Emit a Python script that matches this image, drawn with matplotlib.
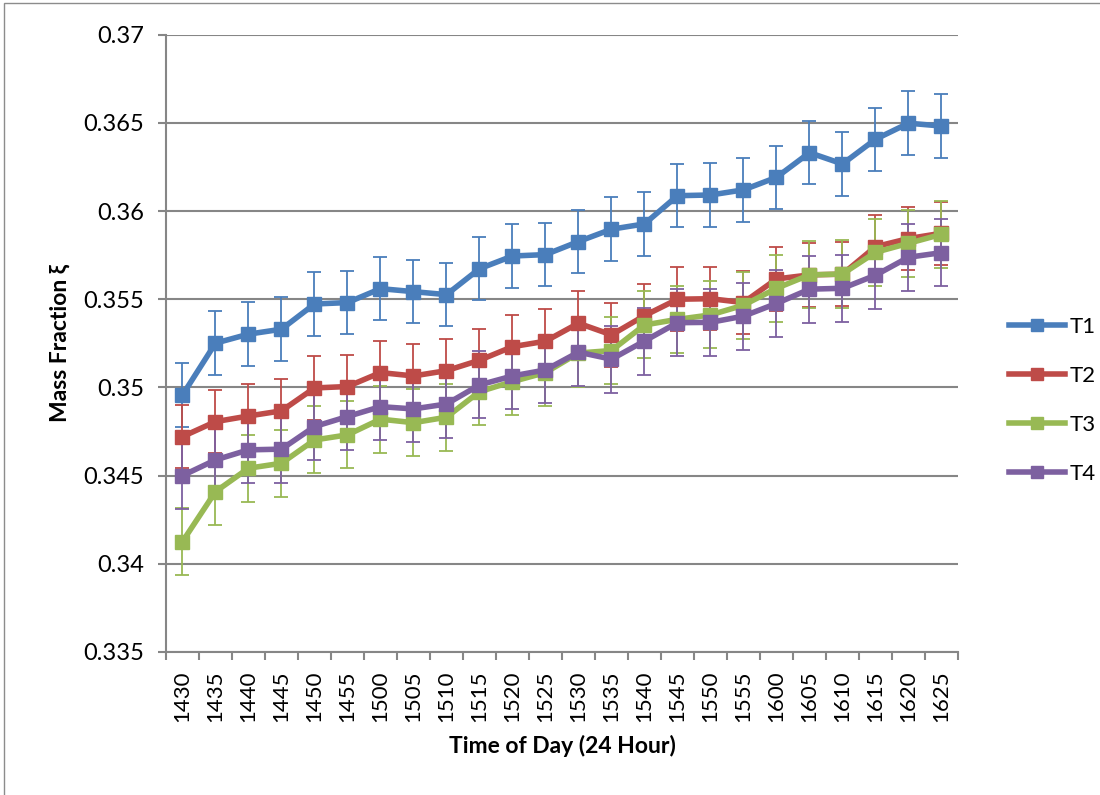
import matplotlib
matplotlib.use("Agg")
import matplotlib.pyplot as plt
from matplotlib.lines import Line2D
from matplotlib.patches import Rectangle
import numpy as np

plt.rcParams['font.family'] = ['Lato', 'DejaVu Sans']

times = ["1430", "1435", "1440", "1445", "1450", "1455", "1500", "1505",
         "1510", "1515", "1520", "1525", "1530", "1535", "1540", "1545",
         "1550", "1555", "1600", "1605", "1610", "1615", "1620", "1625"]

t1 = [0.34957, 0.35251, 0.35302, 0.35330, 0.35473, 0.35481, 0.35560, 0.35543,
      0.35526, 0.35673, 0.35745, 0.35753, 0.35827, 0.35897, 0.35927, 0.36087,
      0.36091, 0.36120, 0.36191, 0.36331, 0.36267, 0.36407, 0.36498, 0.36482]
t2 = [0.34721, 0.34806, 0.34838, 0.34867, 0.34997, 0.35005, 0.35084, 0.35065,
      0.35095, 0.35154, 0.35231, 0.35262, 0.35364, 0.35298, 0.35407, 0.35500,
      0.35503, 0.35481, 0.35615, 0.35638, 0.35642, 0.35798, 0.35844, 0.35874]
t3 = [0.34126, 0.34409, 0.34542, 0.34570, 0.34702, 0.34731, 0.34820, 0.34800,
      0.34831, 0.34976, 0.35033, 0.35084, 0.35195, 0.35209, 0.35354, 0.35386,
      0.35411, 0.35466, 0.35562, 0.35638, 0.35643, 0.35766, 0.35817, 0.35868]
t4 = [0.34500, 0.34589, 0.34646, 0.34650, 0.34778, 0.34835, 0.34891, 0.34878,
      0.34906, 0.35014, 0.35065, 0.35099, 0.35200, 0.35160, 0.35263, 0.35367,
      0.35369, 0.35404, 0.35476, 0.35557, 0.35562, 0.35636, 0.35738, 0.35764]

err = {"T1": 0.0018, "T2": 0.0018, "T3": 0.0019, "T4": 0.0019}

series = [("T1", t1, "#4A7EBB"), ("T2", t2, "#BE4B48"),
          ("T3", t3, "#98B954"), ("T4", t4, "#7D60A0")]

fig = plt.figure(figsize=(11, 7.95), dpi=100)
ax = fig.add_axes([0.1509, 0.1799, 0.8709 - 0.1509, 0.9564 - 0.1799])

x = np.arange(len(times))
grid_c = "#868686"

ax.set_ylim(0.335, 0.37)
ax.set_xlim(-0.5, len(times) - 0.5)
ax.set_yticks(np.arange(0.335, 0.3701, 0.005))
ax.set_yticklabels(["0.335", "0.34", "0.345", "0.35", "0.355", "0.36", "0.365", "0.37"])
ax.yaxis.grid(True, color=grid_c, linewidth=1.5)
ax.set_axisbelow(True)

for name, vals, col in series:
    ax.errorbar(x, vals, yerr=err[name], color=col, ecolor=col, elinewidth=1.3,
                capsize=5, capthick=1.3, linewidth=4, marker="s",
                markersize=9.5, zorder=3)

ax.set_xticks(x)
ax.set_xticklabels(times, rotation=90, fontsize=16)
ax.set_xticks(np.arange(-0.5, len(times)), minor=True)
ax.tick_params(axis="x", which="major", length=0, pad=13)
ax.tick_params(axis="x", which="minor", length=6, width=1.5, color=grid_c)
ax.tick_params(axis="y", length=6, width=1.5, color=grid_c, labelsize=17, pad=10)

for s in ["top", "right"]:
    ax.spines[s].set_visible(False)
for s in ["left", "bottom"]:
    ax.spines[s].set_color(grid_c)
    ax.spines[s].set_linewidth(1.5)

ax.set_ylabel("Mass Fraction ξ", fontsize=16.5, fontweight="bold")
ax.set_xlabel("Time of Day (24 Hour)", fontsize=16.5, fontweight="bold")
ax.yaxis.set_label_coords(-0.12, 0.5)
ax.xaxis.set_label_coords(0.5, -0.135)

handles = [Line2D([0], [0], color=c, linewidth=4, marker="s", markersize=9)
           for _, _, c in series]
fig.legend(handles, [n for n, _, _ in series], loc="center left",
           bbox_to_anchor=(0.9073, 0.4962), frameon=False, fontsize=16,
           borderpad=0, handlelength=2.5, handletextpad=0.2, labelspacing=1.3)

fig.patches.append(Rectangle((0.004, -0.01), 1.2, 1.006, transform=fig.transFigure,
                             fill=False, edgecolor="#8c8c8c", linewidth=1.0))

fig.savefig("out.png", dpi=100)
